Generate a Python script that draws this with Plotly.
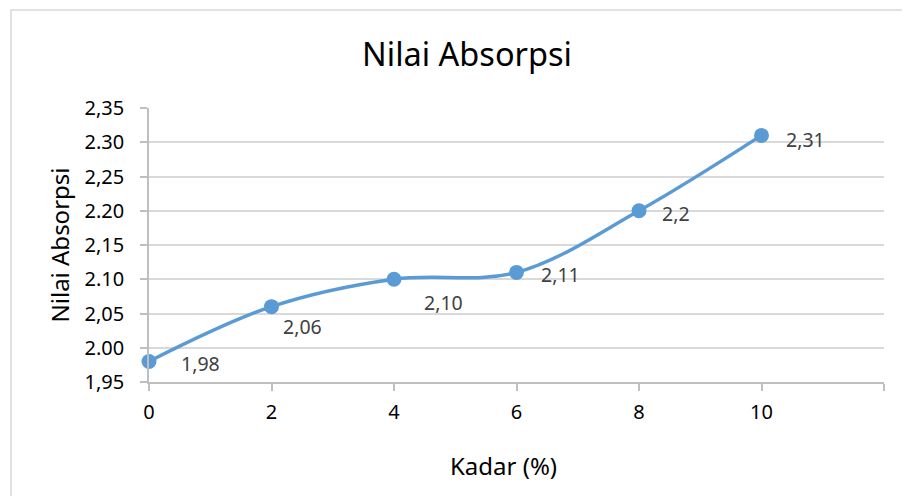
import plotly.graph_objects as go

kadar = [0, 2, 4, 6, 8, 10]
absorpsi = [1.98, 2.06, 2.10, 2.11, 2.20, 2.31]
label_text = ["1,98", "2,06", "2,10", "2,11", "2,2", "2,31"]
label_dx = [51, 31, 49, 44, 37, 44]
label_dy = [-2, -20, -23, -2, -3, -4]

y_tickvals = [1.95, 2.00, 2.05, 2.10, 2.15, 2.20, 2.25, 2.30, 2.35]
y_ticktext = ["1,95", "2.00", "2,05", "2.10", "2,15", "2.20", "2,25", "2.30", "2,35"]
x_tickvals = [0, 2, 4, 6, 8, 10, 12]
x_ticktext = ["0", "2", "4", "6", "8", "10", ""]

FONT = "Noto Sans"
fig = go.Figure()
fig.add_trace(go.Scatter(
    x=kadar, y=absorpsi, mode="lines+markers",
    line=dict(color="#5B9BD5", width=3.5, shape="spline", smoothing=1.0),
    marker=dict(color="#5B9BD5", size=15),
    hoverinfo="skip", showlegend=False, cliponaxis=False,
))

annotations = []
for x, y, t, dx, dy in zip(kadar, absorpsi, label_text, label_dx, label_dy):
    annotations.append(dict(x=x, y=y, xref="x", yref="y", text=t, showarrow=False,
                            xshift=dx, yshift=dy,
                            font=dict(family=FONT, size=19.5, color="#404040")))
annotations.append(dict(text="Kadar (%)", xref="paper", yref="paper",
                        x=(503 - 149) / 735, y=(382 - 465) / 274,
                        xanchor="center", yanchor="middle", showarrow=False,
                        font=dict(family=FONT, size=24, color="#000000")))

fig.update_layout(
    width=910, height=496,
    margin=dict(l=141, r=34, t=100, b=122),
    paper_bgcolor="white", plot_bgcolor="white",
    font=dict(family=FONT, color="#000000"),
    title=dict(text="Nilai Absorpsi", x=(467 - 8) / 910, xanchor="center",
               y=1 - (55 - 8) / 496, yanchor="middle",
               font=dict(family=FONT, size=32.5, color="#000000")),
    xaxis=dict(range=[0, 12], tickvals=x_tickvals, ticktext=x_ticktext,
               showgrid=False, zeroline=False,
               showline=True, linecolor="#BFBFBF", linewidth=1.5,
               ticks="outside", ticklen=7, tickcolor="#BFBFBF", tickwidth=1.5,
               ticklabelstandoff=4,
               tickfont=dict(family=FONT, size=20, color="#000000")),
    yaxis=dict(range=[1.95, 2.35], tickvals=y_tickvals, ticktext=y_ticktext,
               showgrid=True, gridcolor="#D9D9D9", gridwidth=1.5, zeroline=False,
               showline=True, linecolor="#BFBFBF", linewidth=1.5,
               ticks="outside", ticklen=7, tickcolor="#BFBFBF", tickwidth=1.5,
               ticklabelstandoff=12,
               tickfont=dict(family=FONT, size=20, color="#000000"),
               title=dict(text="Nilai Absorpsi", font=dict(family=FONT, size=24, color="#000000"), standoff=8)),
    annotations=annotations,
    shapes=[dict(type="rect", xref="paper", yref="paper",
                 x0=-0.1878, x1=1.2, y0=-0.6, y1=1.3577,
                 line=dict(color="#D9D9D9", width=1.5), fillcolor="rgba(0,0,0,0)", layer="below")],
)

fig.write_html("out.html")
